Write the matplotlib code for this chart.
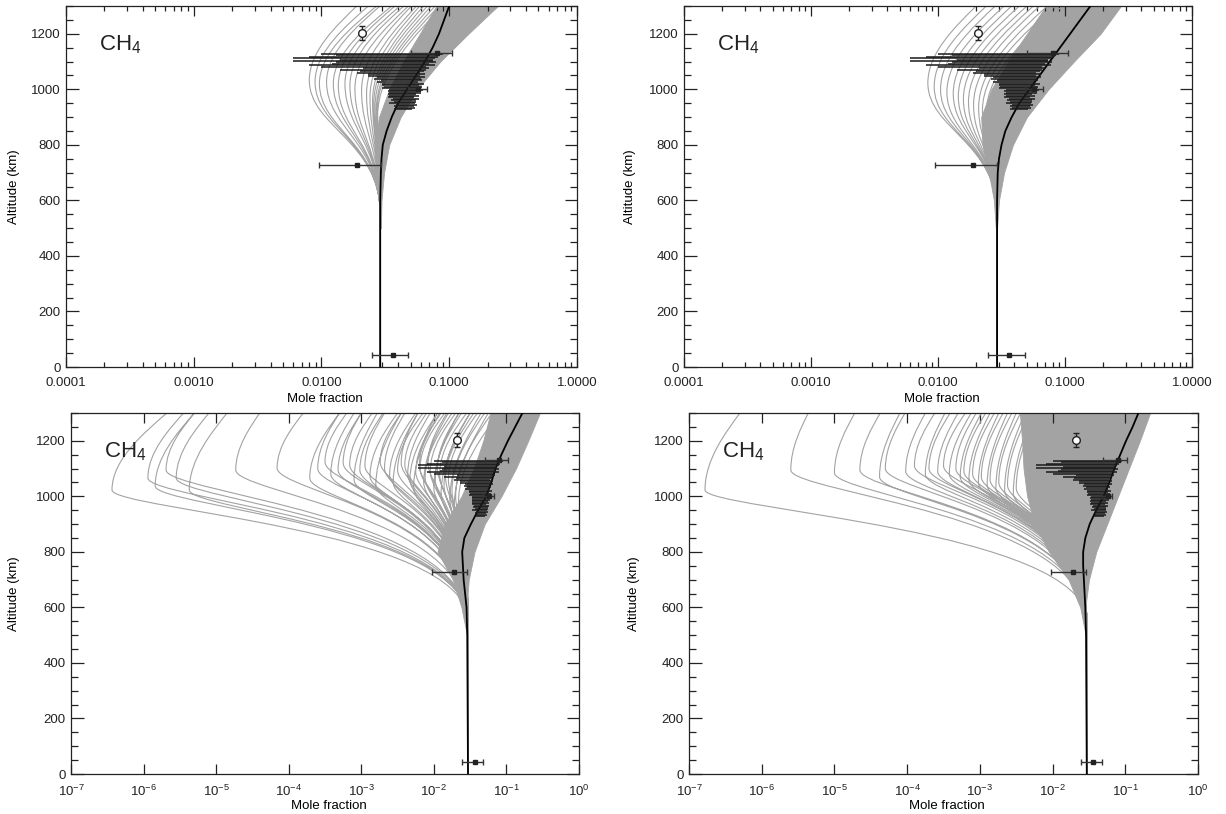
import numpy as np
import matplotlib
matplotlib.use('Agg')
import matplotlib.pyplot as plt
from matplotlib.path import Path
from matplotlib.patches import PathPatch
from matplotlib.ticker import MultipleLocator, LogLocator, NullLocator, FuncFormatter, FixedLocator

plt.rcParams['font.family'] = ['Liberation Sans', 'DejaVu Sans']
plt.rcParams['mathtext.fontset'] = 'custom'
plt.rcParams['mathtext.rm'] = 'Liberation Sans'
plt.rcParams['mathtext.it'] = 'Liberation Sans:italic'

# ---- observations (same in every panel) ----
circ_x, circ_alt, circ_err = 0.0207, 1203, 25
sq_x = [0.0365, 0.019, 0.057, 0.080]
sq_alt = [43, 727, 1000, 1130]
sq_lo = [0.0247, 0.0095, 0.048, 0.050]
sq_hi = [0.048, 0.029, 0.0665, 0.105]

inms_alt = [1128, 1123, 1118, 1112, 1107, 1102, 1097, 1092, 1087, 1081, 1076, 1070, 1065,
            1060, 1054, 1049, 1043, 1038, 1032, 1027, 1021, 1016, 1010, 1005, 999, 994,
            988, 983, 977, 972, 966, 961, 955, 950, 944, 939, 933, 928]
inms_val = [0.050, 0.047, 0.045, 0.042, 0.044, 0.040, 0.046, 0.041, 0.043, 0.038, 0.045,
            0.040, 0.042, 0.039, 0.044, 0.041, 0.046, 0.043, 0.045, 0.042, 0.047, 0.044,
            0.046, 0.043, 0.048, 0.045, 0.047, 0.044, 0.046, 0.043, 0.047, 0.045, 0.046,
            0.044, 0.047, 0.045, 0.046, 0.044]
inms_err = [0.040, 0.034, 0.037, 0.036, 0.030, 0.034, 0.033, 0.029, 0.035, 0.028, 0.024,
            0.026, 0.022, 0.020, 0.021, 0.018, 0.019, 0.017, 0.016, 0.015, 0.017, 0.014,
            0.015, 0.013, 0.014, 0.012, 0.013, 0.011, 0.012, 0.010, 0.011, 0.010, 0.009,
            0.010, 0.009, 0.008, 0.008, 0.007]

# ---- nominal profiles (log10 mole fraction) ----
nom_alt = [0, 500, 600, 700, 750, 800, 850, 900, 950, 1000, 1050, 1100, 1150, 1200, 1250, 1300]
tl_nom = [-1.54, -1.54, -1.54, -1.535, -1.53, -1.52, -1.49, -1.45, -1.40, -1.33, -1.26, -1.19, -1.13, -1.08, -1.04, -1.0]
tr_nom = [-1.535, -1.535, -1.535, -1.53, -1.52, -1.50, -1.47, -1.42, -1.36, -1.28, -1.20, -1.12, -1.04, -0.96, -0.88, -0.80]
bl_nom = [-1.53, -1.54, -1.55, -1.59, -1.60, -1.61, -1.58, -1.49, -1.39, -1.28, -1.21, -1.15, -1.07, -0.98, -0.88, -0.78]
br_nom = [-1.53, -1.54, -1.55, -1.57, -1.58, -1.58, -1.55, -1.49, -1.40, -1.30, -1.22, -1.15, -1.07, -0.99, -0.90, -0.82]

# ---- gray ensemble: dense band (log10) ----
band_alt = [500, 600, 700, 800, 900, 1000, 1100, 1200, 1300]
tl_band_lo = [-1.545, -1.55, -1.57, -1.58, -1.55, -1.47, -1.36, -1.23, -1.10]
tl_band_hi = [-1.535, -1.53, -1.51, -1.47, -1.38, -1.25, -1.07, -0.85, -0.62]
tr_band_lo = [-1.545, -1.56, -1.60, -1.65, -1.66, -1.58, -1.45, -1.30, -1.15]
tr_band_hi = [-1.535, -1.52, -1.48, -1.41, -1.30, -1.13, -0.93, -0.72, -0.56]
bl_band_lo = [-1.545, -1.62, -1.74, -1.95, -1.85, -1.62, -1.45, -1.32, -1.22]
bl_band_hi = [-1.535, -1.55, -1.52, -1.44, -1.30, -1.07, -0.87, -0.70, -0.54]
br_band_lo = [-1.545, -1.62, -1.78, -2.05, -2.25, -2.35, -2.40, -2.42, -2.45]
br_band_hi = [-1.535, -1.55, -1.50, -1.40, -1.25, -1.10, -0.95, -0.80, -0.66]

# ---- gray ensemble: individual curves (nose log x, nose alt, log x at 1300 km) ----
tl_nose_x = [-2.095, -2.05, -2.016, -1.96, -1.907, -1.868, -1.816, -1.777, -1.738, -1.686,
             -1.647, -1.62, -1.60, -1.59, -1.58, -1.57, -1.565, -1.56]
tl_nose_alt = [1033, 1027, 1021, 1027, 1021, 1015, 1021, 1015, 1003, 997, 985, 973, 960, 950,
               940, 930, 920, 905]
tl_top_x = [-1.724, -1.633, -1.568, -1.542, -1.45, -1.425, -1.386, -1.355, -1.32, -1.295,
            -1.256, -1.23, -1.20, -1.17, -1.14, -1.11, -1.08, -1.05]

tr_nose_x = [-2.08, -2.03, -1.98, -1.93, -1.88, -1.84, -1.80, -1.76, -1.72, -1.68, -1.65, -1.62]
tr_nose_alt = [1023, 1010, 1000, 990, 985, 975, 965, 955, 945, 935, 925, 915]
tr_top_x = [-1.70, -1.62, -1.55, -1.48, -1.42, -1.36, -1.30, -1.25, -1.20, -1.14, -1.08, -1.02]

bl_nose_x = [-6.435, -5.94, -5.84, -5.69, -5.55, -5.37, -4.73, -4.16, -3.71, -3.60, -3.50,
             -3.42, -3.32, -3.25, -3.16, -3.10, -3.02, -2.95, -2.88, -2.80, -2.74, -2.68,
             -2.61, -2.56, -2.50, -2.45, -2.40, -2.36, -2.33, -2.28, -2.25, -2.20, -2.19,
             -2.14, -2.12, -2.08, -2.05, -2.00, -1.98, -1.95, -1.92, -1.90, -1.86, -1.84,
             -1.80, -1.78, -1.75, -1.72, -1.70, -1.66]
bl_nose_alt = [1023, 1066, 1037, 1095, 1066, 1023, 1095, 1102, 1066, 1100, 1124, 1080, 1095,
               1120, 1113, 1060, 1095, 1110, 1073, 1040, 1124, 1100, 1077, 1050, 1095, 1120,
               1113, 1080, 1059, 1030, 1088, 1110, 1102, 1050, 1066, 1120, 1090, 1030, 1060,
               1100, 1080, 1010, 1040, 1070, 1060, 990, 1020, 960, 1000, 980]
bl_top_x = [-5.68, -5.45, -5.3, -5.3, -5.1, -4.85, -4.4, -3.8, -3.3, -3.30, -3.2, -3.10,
            -3.0, -3.00, -2.85, -2.78, -2.7, -2.68, -2.5, -2.45, -2.45, -2.40, -2.25, -2.22,
            -2.15, -2.22, -2.1, -2.05, -1.95, -1.92, -1.9, -1.95, -1.85, -1.80, -1.75, -1.82,
            -1.70, -1.66, -1.62, -1.65, -1.55, -1.50, -1.45, -1.50, -1.40, -1.35, -1.30,
            -1.25, -1.20, -1.10]

br_nose_x = [-6.78, -5.60, -5.00, -4.65, -4.38, -4.30, -4.02, -3.90, -3.75, -3.70, -3.58,
             -3.50, -3.42, -3.33, -3.27, -3.22, -3.15, -3.10, -3.02, -2.98, -2.90, -2.86,
             -2.78, -2.74, -2.66, -2.62, -2.54, -2.50]
br_nose_alt = [1023, 1095, 1085, 1095, 1070, 1100, 1090, 1110, 1080, 1100, 1090, 1110, 1080,
               1100, 1070, 1090, 1060, 1080, 1050, 1070, 1040, 1060, 1030, 1050, 1020, 1040,
               1010, 1030]
br_top_x = [-6.30, -5.36, -4.72, -4.37, -4.10, -4.03, -3.75, -3.62, -3.48, -3.41, -3.30,
            -3.20, -3.12, -3.05, -2.98, -2.92, -2.86, -2.80, -2.74, -2.68, -2.62, -2.56,
            -2.50, -2.44, -2.38, -2.32, -2.26, -2.20]

GRAY = '#a3a3a3'


def ensemble_path(base, nose_x, nose_alt, top_x, k1, k2, a0=550):
    verts, codes = [], []
    for xn, an, xt in zip(nose_x, nose_alt, top_x):
        pts = [(base, 0), (base, a0),
               (base, a0 + k1 * (an - a0)), (xn, an - k2 * (an - a0)), (xn, an),
               (xn, an + 0.4 * (1300 - an)), (xn + 0.6 * (xt - xn), an + 0.75 * (1300 - an)),
               (xt, 1300)]
        verts += [(10 ** x, y) for x, y in pts]
        codes += [Path.MOVETO, Path.LINETO] + [Path.CURVE4] * 6
    return Path(verts, codes)


def draw_panel(ax, nom, band_lo, band_hi, nose_x, nose_alt, top_x, k1, k2, bottom, ylab_x):
    ax.fill_betweenx(band_alt, 10 ** np.array(band_lo), 10 ** np.array(band_hi),
                     color=GRAY, lw=0.6, zorder=1)
    ax.add_patch(PathPatch(ensemble_path(nom[0], nose_x, nose_alt, top_x, k1, k2),
                           fill=False, edgecolor=GRAY, lw=0.8, zorder=2))
    ax.plot(10 ** np.array(nom), nom_alt, color='black', lw=1.3, zorder=4)

    # INMS
    v = np.array(inms_val)
    e = np.array(inms_err)
    ax.hlines(inms_alt, v - e, v + e, color='#1a1a1a', lw=1.1, zorder=5)
    # other data
    xs = np.array(sq_x)
    ax.errorbar(xs, sq_alt, xerr=[xs - np.array(sq_lo), np.array(sq_hi) - xs], fmt='s',
                ms=3.5, color='#222222', ecolor='#333333', elinewidth=1.0, capsize=2.5, zorder=6)
    ax.errorbar([circ_x], [circ_alt], yerr=circ_err, fmt='o', ms=5.5, mfc='white',
                mec='#222222', color='#222222', elinewidth=1.0, capsize=2.5, zorder=6)

    ax.set_xscale('log')
    ax.set_ylim(0, 1300)
    ax.yaxis.set_major_locator(MultipleLocator(200))
    ax.yaxis.set_minor_locator(MultipleLocator(50))
    if bottom:
        ax.set_xlim(1e-7, 1)
        ax.xaxis.set_major_locator(FixedLocator([1e-7, 1e-6, 1e-5, 1e-4, 1e-3, 1e-2, 1e-1, 1]))
        ax.xaxis.set_minor_locator(NullLocator())
        ax.xaxis.set_major_formatter(FuncFormatter(
            lambda v, p: r'$\mathregular{10^{%d}}$' % round(np.log10(v))))
    else:
        ax.set_xlim(1e-4, 1)
        ax.xaxis.set_major_locator(FixedLocator([1e-4, 1e-3, 1e-2, 1e-1, 1]))
        ax.xaxis.set_minor_locator(LogLocator(base=10, subs=np.arange(2, 10), numticks=20))
        ax.xaxis.set_major_formatter(FuncFormatter(lambda v, p: '%.4f' % v))
    ax.tick_params(which='both', direction='in', top=True, right=True,
                   labelsize=9.5, colors='#222222', width=0.9)
    ax.tick_params(axis='y', which='major', length=9, pad=4)
    ax.tick_params(axis='y', which='minor', length=5)
    ax.tick_params(axis='x', which='major', length=7, pad=7)
    ax.tick_params(axis='x', which='minor', length=3.5)
    for s in ax.spines.values():
        s.set_linewidth(0.9)
        s.set_color('#222222')
    ax.set_xlabel('Mole fraction', fontsize=9.5)
    ax.set_ylabel('Altitude (km)', fontsize=9.5)
    ax.xaxis.set_label_coords(0.507, -0.073)
    ax.yaxis.set_label_coords(ylab_x, 0.5)
    ax.text(0.065, 0.877, r'CH$_\mathregular{4}$', transform=ax.transAxes, fontsize=16,
            ha='left', va='baseline', color='#222222')


fig = plt.figure(figsize=(12.26, 8.14), dpi=100)
ax_tl = fig.add_axes([0.0538, 0.5491, 0.4168, 0.4435])
ax_tr = fig.add_axes([0.5579, 0.5491, 0.4144, 0.4435])
ax_bl = fig.add_axes([0.0579, 0.0491, 0.4144, 0.4435])
ax_br = fig.add_axes([0.5620, 0.0491, 0.4152, 0.4435])

draw_panel(ax_tl, tl_nom, tl_band_lo, tl_band_hi, tl_nose_x, tl_nose_alt, tl_top_x, 0.55, 0.35, False, -0.09)
draw_panel(ax_tr, tr_nom, tr_band_lo, tr_band_hi, tr_nose_x, tr_nose_alt, tr_top_x, 0.55, 0.35, False, -0.094)
draw_panel(ax_bl, bl_nom, bl_band_lo, bl_band_hi, bl_nose_x, bl_nose_alt, bl_top_x, 0.7, 0.15, True, -0.10)
draw_panel(ax_br, br_nom, br_band_lo, br_band_hi, br_nose_x, br_nose_alt, br_top_x, 0.7, 0.15, True, -0.096)

fig.savefig('out.png', dpi=100)
